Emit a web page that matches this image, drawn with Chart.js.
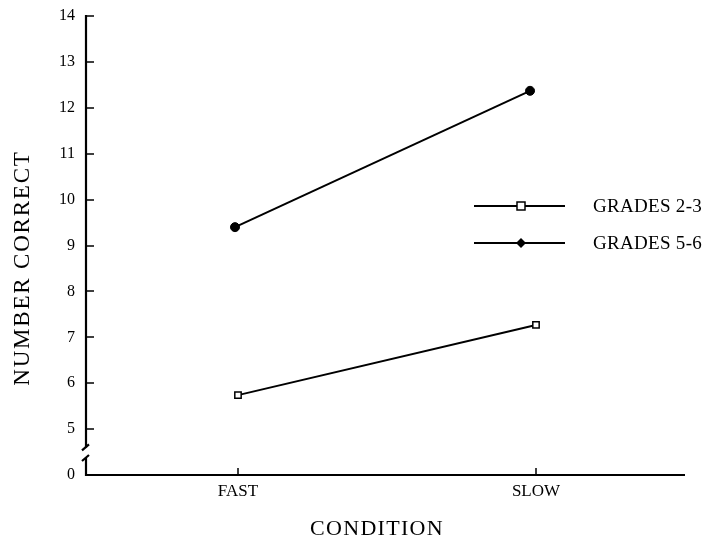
<!DOCTYPE html>
<html>
<head>
<meta charset="utf-8">
<script src="https://cdn.jsdelivr.net/npm/chart.js@4/dist/chart.umd.min.js"></script>
<style>
    html, body { margin: 0; padding: 0; background: #fff; }
    #wrap { width: 721px; height: 544px; }
</style>
</head>
<body>
<div id="wrap"><canvas id="chart" width="721" height="544"></canvas></div>
<script>
// Categorías del eje X y su posición en la escala
const conditions = ['FAST', 'SLOW'];
const conditionPos = [1, 2];

// Valores (los puntos no caen justo sobre la marca en el original)
const grades23X = [1.0, 2.0];
const grades23Y = [5.74, 7.27];
const grades56X = [0.99, 1.98];
const grades56Y = [9.40, 12.37];

const seriesLabels = ['GRADES 2-3', 'GRADES 5-6'];

// Marcas del eje Y; el "0" va en la base, tras el corte
const yTicks = [5, 6, 7, 8, 9, 10, 11, 12, 13, 14];
const yZeroValue = 4;
const yZeroLabel = '0';
const yBreak = [4.37, 4.6];

const FONT = '"Liberation Serif", "DejaVu Serif", serif';

function toPoints(xs, ys) {
    return xs.map((x, i) => ({ x: x, y: ys[i] }));
}

// Ejes dibujados a mano: marcas hacia dentro, corte del eje Y, leyenda y títulos
const axesPlugin = {
    id: 'axesPlugin',
    afterDraw(chart) {
        const ctx = chart.ctx;
        const xs = chart.scales.x;
        const ys = chart.scales.y;
        const area = chart.chartArea;

        ctx.save();
        ctx.strokeStyle = '#000';
        ctx.lineWidth = 2.2;
        ctx.lineCap = 'butt';

        const yBreakTop = ys.getPixelForValue(yBreak[1]);
        const yBreakBot = ys.getPixelForValue(yBreak[0]);

        ctx.beginPath();
        ctx.moveTo(area.left, area.top - 1);
        ctx.lineTo(area.left, yBreakTop);
        ctx.moveTo(area.left, yBreakBot);
        ctx.lineTo(area.left, area.bottom);
        ctx.lineTo(area.right, area.bottom);
        ctx.stroke();

        // marcas del corte
        ctx.beginPath();
        [yBreakTop, yBreakBot].forEach(y => {
            ctx.moveTo(area.left - 4, y + 3);
            ctx.lineTo(area.left + 3, y - 3);
        });
        ctx.stroke();

        // marcas de graduación hacia dentro
        ctx.lineWidth = 1.5;
        ctx.beginPath();
        yTicks.forEach(v => {
            const y = Math.round(ys.getPixelForValue(v));
            ctx.moveTo(area.left, y);
            ctx.lineTo(area.left + 8, y);
        });
        conditionPos.forEach(v => {
            const x = Math.round(xs.getPixelForValue(v));
            ctx.moveTo(x, area.bottom);
            ctx.lineTo(x, area.bottom - 7);
        });
        ctx.stroke();

        // leyenda
        const legendRows = [206, 243];
        chart.data.datasets.forEach((ds, i) => {
            const y = legendRows[i];
            ctx.lineWidth = 2;
            ctx.strokeStyle = '#000';
            ctx.beginPath();
            ctx.moveTo(474, y);
            ctx.lineTo(565, y);
            ctx.stroke();
            const mx = 521;
            if (ds.pointStyle === 'rect') {
                ctx.fillStyle = '#fff';
                ctx.fillRect(mx - 4, y - 4, 8, 8);
                ctx.lineWidth = 1.5;
                ctx.strokeRect(mx - 4, y - 4, 8, 8);
            } else {
                ctx.fillStyle = '#000';
                ctx.beginPath();
                ctx.moveTo(mx, y - 5);
                ctx.lineTo(mx + 5, y);
                ctx.lineTo(mx, y + 5);
                ctx.lineTo(mx - 5, y);
                ctx.closePath();
                ctx.fill();
            }
            ctx.fillStyle = '#000';
            ctx.font = '19px ' + FONT;
            ctx.letterSpacing = '0.3px';
            ctx.textAlign = 'left';
            ctx.textBaseline = 'middle';
            ctx.fillText(ds.label, 593, y + 1);
        });

        // títulos de los ejes
        ctx.fillStyle = '#000';
        ctx.textAlign = 'center';
        ctx.textBaseline = 'middle';
        ctx.font = '22px ' + FONT;
        ctx.letterSpacing = '1.3px';
        ctx.fillText('CONDITION', 377, 529);

        ctx.save();
        ctx.translate(23, 268);
        ctx.rotate(-Math.PI / 2);
        ctx.font = '23px ' + FONT;
        ctx.letterSpacing = '1.8px';
        ctx.fillText('NUMBER CORRECT', 0, 0);
        ctx.restore();

        ctx.restore();
    }
};

const ctx = document.getElementById('chart').getContext('2d');

new Chart(ctx, {
    type: 'line',
    data: {
        datasets: [
            {
                label: seriesLabels[0],
                data: toPoints(grades23X, grades23Y),
                borderColor: '#000',
                borderWidth: 2,
                pointStyle: 'rect',
                pointRadius: 4.5,
                pointBorderWidth: 1.5,
                pointBackgroundColor: '#fff',
                pointBorderColor: '#000',
                fill: false,
                tension: 0,
            },
            {
                label: seriesLabels[1],
                data: toPoints(grades56X, grades56Y),
                borderColor: '#000',
                borderWidth: 2,
                pointStyle: 'circle',
                pointRadius: 4.5,
                pointBorderWidth: 1,
                pointBackgroundColor: '#000',
                pointBorderColor: '#000',
                fill: false,
                tension: 0,
            },
        ],
    },
    options: {
        responsive: false,
        animation: false,
        layout: {
            padding: { top: 16, right: 36, left: 0, bottom: 0 },
        },
        plugins: {
            legend: { display: false },
            tooltip: { enabled: false },
        },
        scales: {
            x: {
                type: 'linear',
                min: 0.49,
                max: 2.5,
                border: { display: false },
                grid: { display: false, drawTicks: false },
                afterBuildTicks: scale => {
                    scale.ticks = conditionPos.map(v => ({ value: v }));
                },
                afterFit: scale => {
                    scale.height = 69;
                    scale.paddingLeft = 0;
                    scale.paddingRight = 0;
                },
                ticks: {
                    padding: 6,
                    color: '#000',
                    font: { family: FONT, size: 17 },
                    callback: value => conditions[conditionPos.indexOf(value)] || '',
                },
            },
            y: {
                type: 'linear',
                min: yZeroValue,
                max: 14,
                border: { display: false },
                grid: { display: false, drawTicks: false },
                afterBuildTicks: scale => {
                    scale.ticks = [yZeroValue].concat(yTicks).map(v => ({ value: v }));
                },
                afterFit: scale => {
                    scale.width = 86;
                    scale.paddingTop = 0;
                    scale.paddingBottom = 0;
                },
                ticks: {
                    padding: 11,
                    color: '#000',
                    font: { family: FONT, size: 16 },
                    callback: value => value === yZeroValue ? yZeroLabel : String(value),
                },
            },
        },
    },
    plugins: [axesPlugin],
});
</script>
</body>
</html>
